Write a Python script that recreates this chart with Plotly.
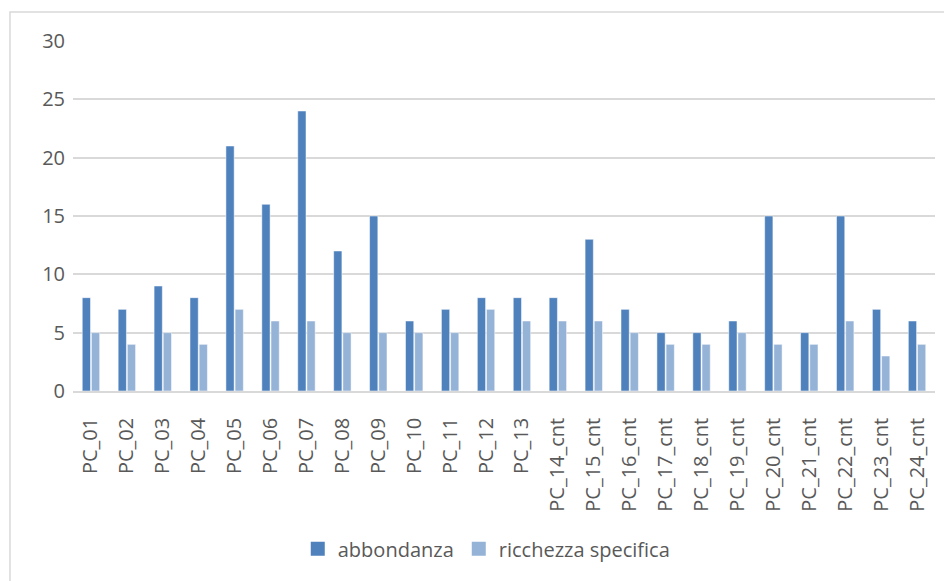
import plotly.graph_objects as go

categories = ["PC_01", "PC_02", "PC_03", "PC_04", "PC_05", "PC_06", "PC_07", "PC_08",
              "PC_09", "PC_10", "PC_11", "PC_12", "PC_13", "PC_14_cnt", "PC_15_cnt",
              "PC_16_cnt", "PC_17_cnt", "PC_18_cnt", "PC_19_cnt", "PC_20_cnt",
              "PC_21_cnt", "PC_22_cnt", "PC_23_cnt", "PC_24_cnt"]
abbondanza = [8, 7, 9, 8, 21, 16, 24, 12, 15, 6, 7, 8, 8, 8, 13, 7, 5, 5, 6, 15, 5, 15, 7, 6]
ricchezza = [5, 4, 5, 4, 7, 6, 6, 5, 5, 5, 5, 7, 6, 6, 6, 5, 4, 4, 5, 4, 4, 6, 3, 4]
series_names = ["abbondanza", "ricchezza specifica"]
y_ticks = [0, 5, 10, 15, 20, 25, 30]

FONT = "Open Sans"
TXT = "#595959"
GRID = "#D9D9D9"
COLORS = ["#4F81BD", "#95B3D7"]

fig = go.Figure()
for vals, name, col in zip([abbondanza, ricchezza], series_names, COLORS):
    fig.add_trace(go.Bar(x=categories, y=vals, name=name, showlegend=False,
                         marker=dict(color=col, line=dict(color="white", width=0.5))))
# legend entries with square swatches
for name, col in zip(series_names, COLORS):
    fig.add_trace(go.Scatter(x=[None], y=[None], mode="markers", name=name,
                             marker=dict(symbol="square", size=14, color=col)))

fig.update_layout(
    width=952, height=581,
    margin=dict(l=65, r=25, t=33, b=198),
    plot_bgcolor="white", paper_bgcolor="white",
    barmode="group", bargap=0.49, bargroupgap=0.1,
    font=dict(family=FONT, size=20, color=TXT),
    showlegend=True,
    legend=dict(orientation="h", x=0.48, xanchor="center", y=-0.451, yanchor="middle",
                font=dict(family=FONT, size=20, color=TXT), itemwidth=30,
                traceorder="normal"),
    shapes=[dict(type="rect", xref="paper", yref="paper",
                 x0=-0.0731, x1=1.3, y0=-1.0, y1=1.083,
                 line=dict(color=GRID, width=1.5), fillcolor="rgba(0,0,0,0)", layer="below")],
)
fig.update_xaxes(tickangle=-90, showline=True, linecolor=GRID, linewidth=1.5,
                 ticks="", ticklabelstandoff=17, tickfont=dict(family=FONT, size=20, color=TXT))
fig.update_yaxes(range=[0, 30], tickvals=y_ticks, showgrid=True, gridcolor=GRID, gridwidth=1.5,
                 zeroline=False, showline=False, ticks="", ticklabelstandoff=7,
                 tickfont=dict(family=FONT, size=20, color=TXT))

fig.write_html("out.html")
